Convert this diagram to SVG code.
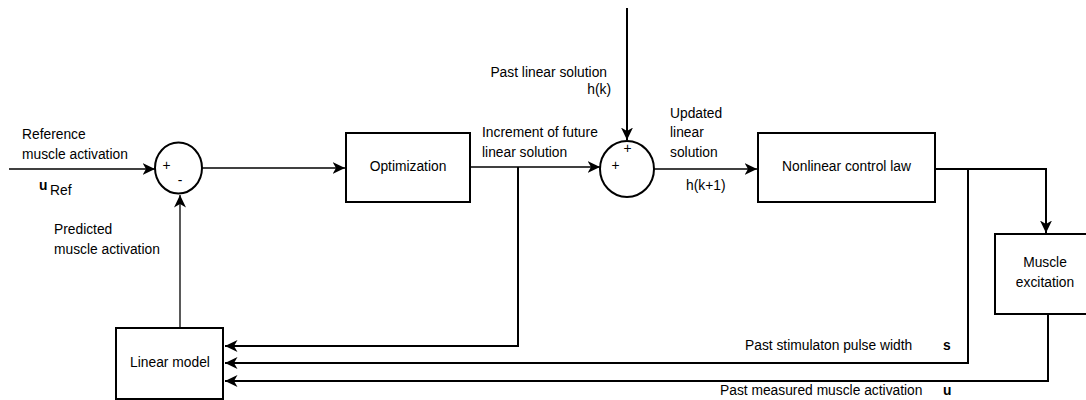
<svg xmlns="http://www.w3.org/2000/svg" width="1086" height="400" viewBox="0 0 1086 400">
<style>
text{font-family:"Liberation Sans",Arial,sans-serif;font-size:13.8px;fill:#000}
.box{fill:#fff;stroke:#000;stroke-width:2}
.thin{fill:none;stroke:#000;stroke-width:1.3}
.thick{fill:none;stroke:#000;stroke-width:2}
.b{font-weight:bold}
</style>
<defs>
<marker id="ah" markerUnits="userSpaceOnUse" markerWidth="14" markerHeight="14" viewBox="0 0 14 14" refX="12.5" refY="7" orient="auto">
<path d="M0,1 L12.5,7 L0,13 L3.5,7 z" fill="#000"/>
</marker>
</defs>
<g id="connectors">
<line class="thin" x1="9" y1="169" x2="155" y2="169" marker-end="url(#ah)"/>
<line class="thin" x1="180" y1="328" x2="180" y2="195" marker-end="url(#ah)"/>
<line class="thin" x1="202" y1="168" x2="345" y2="168" marker-end="url(#ah)"/>
<line class="thin" x1="471" y1="167" x2="600" y2="167" marker-end="url(#ah)"/>
<line class="thick" x1="627" y1="8" x2="627" y2="140" marker-end="url(#ah)"/>
<line class="thin" x1="654" y1="169" x2="757" y2="169" marker-end="url(#ah)"/>
<polyline class="thick" points="935,169 1046,169 1046,233" marker-end="url(#ah)"/>
<polyline class="thick" points="518,167 518,346 225,346" marker-end="url(#ah)"/>
<polyline class="thick" points="968,169 968,363 225,363" marker-end="url(#ah)"/>
<polyline class="thick" points="1048,314 1048,381 225,381" marker-end="url(#ah)"/>
</g>
<g id="sum1">
<ellipse class="box" cx="178.5" cy="168" rx="23.5" ry="25.5"/>
<text x="166.5" y="170" text-anchor="middle" font-size="11">+</text>
<text x="180" y="185" text-anchor="middle" font-size="11">-</text>
</g>
<g id="sum2">
<ellipse class="box" cx="627" cy="169" rx="27" ry="28"/>
<text x="627.5" y="152.5" text-anchor="middle" font-size="11">+</text>
<text x="615.5" y="169.5" text-anchor="middle" font-size="11">+</text>
</g>
<g id="optimization">
<rect class="box" x="346" y="133" width="124" height="69"/>
<text x="408" y="171" text-anchor="middle">Optimization</text>
</g>
<g id="nonlinear">
<rect class="box" x="758" y="133" width="177" height="69"/>
<text x="846.5" y="171" text-anchor="middle">Nonlinear control law</text>
</g>
<g id="muscle-excitation">
<rect class="box" x="995" y="234" width="92" height="80"/>
<text x="1045" y="267" text-anchor="middle">Muscle</text>
<text x="1045" y="287" text-anchor="middle">excitation</text>
</g>
<g id="linear-model">
<rect class="box" x="116" y="328" width="107" height="71"/>
<text x="170" y="367" text-anchor="middle" font-size="12">Linear model</text>
</g>
<g id="labels">
<text x="22" y="139">Reference</text>
<text x="22" y="159">muscle activation</text>
<text x="39" y="190" class="b" font-size="14">u</text>
<text x="50" y="194.5" font-size="9.5">Ref</text>
<text x="54" y="234">Predicted</text>
<text x="54" y="254">muscle activation</text>
<text x="607" y="77" text-anchor="end">Past linear solution</text>
<text x="611" y="94" text-anchor="end">h(k)</text>
<text x="482" y="137">Increment of future</text>
<text x="482" y="157">linear solution</text>
<text x="670" y="118">Updated</text>
<text x="670" y="137">linear</text>
<text x="670" y="157">solution</text>
<text x="686" y="190">h(k+1)</text>
<text x="745" y="350">Past stimulaton pulse width</text>
<text x="943" y="350" class="b">s</text>
<text x="720" y="395">Past measured muscle activation</text>
<text x="943" y="395" class="b">u</text>
</g>
</svg>
